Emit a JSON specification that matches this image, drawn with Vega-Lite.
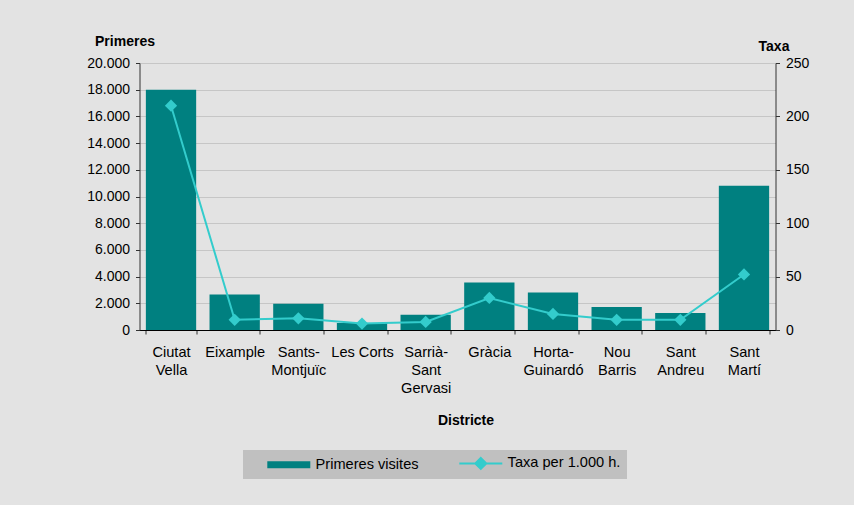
{
  "$schema": "https://vega.github.io/schema/vega-lite/v6.json",
  "width": 636,
  "height": 267,
  "autosize": "none",
  "padding": {"left": 139.5, "top": 63, "right": 78.5, "bottom": 175},
  "background": "#e3e3e3",
  "config": {
    "view": {"stroke": null},
    "font": "Liberation Sans",
    "axis": {
      "labelFont": "Liberation Sans",
      "labelFontSize": 14,
      "labelColor": "#000",
      "titleFont": "Liberation Sans",
      "titleFontSize": 14,
      "titleFontWeight": "bold",
      "titleColor": "#000",
      "domainColor": "#333",
      "tickColor": "#333",
      "tickSize": 4,
      "gridColor": "#c6c6c6",
      "gridWidth": 1
    }
  },
  "data": {
    "values": [
      {"districte": "Ciutat Vella", "primeres": 18000, "taxa": 210},
      {"districte": "Eixample", "primeres": 2650, "taxa": 9.5},
      {"districte": "Sants-Montjuïc", "primeres": 1970, "taxa": 11},
      {"districte": "Les Corts", "primeres": 520, "taxa": 6},
      {"districte": "Sarrià-Sant Gervasi", "primeres": 1150, "taxa": 7.5},
      {"districte": "Gràcia", "primeres": 3550, "taxa": 30},
      {"districte": "Horta-Guinardó", "primeres": 2800, "taxa": 15},
      {"districte": "Nou Barris", "primeres": 1720, "taxa": 9.5},
      {"districte": "Sant Andreu", "primeres": 1280, "taxa": 9.5},
      {"districte": "Sant Martí", "primeres": 10800, "taxa": 52}
    ]
  },
  "encoding": {
    "x": {
      "field": "districte",
      "type": "nominal",
      "sort": null,
      "scale": {"paddingInner": 0.21, "paddingOuter": 0.1},
      "axis": {
        "title": "Districte",
        "titleX": 326,
        "titleY": 94,
        "titleBaseline": "alphabetic",
        "labelAngle": 0,
        "labelFontSize": 14.6,
        "labelPadding": 10,
        "labelLineHeight": 18,
        "labelBaseline": "top",
        "tickBand": "extent",
        "domainColor": "#000",
        "labelExpr": "!isString(datum.value) ? '' : datum.value == 'Les Corts' ? 'Les Corts' : split(replace(replace(datum.value, '-', '-|'), ' ', '|'), '|')"
      }
    }
  },
  "layer": [
    {
      "mark": {"type": "bar"},
      "encoding": {
        "y": {
          "field": "primeres",
          "type": "quantitative",
          "scale": {"domain": [0, 20000], "nice": false},
          "axis": {
            "title": "Primeres",
            "titleAngle": 0,
            "titleX": -15,
            "titleY": -18,
            "titleAlign": "center",
            "titleBaseline": "alphabetic",
            "values": [0, 2000, 4000, 6000, 8000, 10000, 12000, 14000, 16000, 18000, 20000],
            "labelExpr": "replace(format(datum.value, ','), ',', '.')",
            "labelPadding": 6,
            "grid": true
          }
        },
        "color": {
          "datum": "Primeres visites",
          "type": "nominal",
          "scale": {"domain": ["Primeres visites", "Taxa per 1.000 h."], "range": ["#008080", "#33cccc"]},
          "legend": {
            "orient": "none",
            "legendX": 103.5,
            "legendY": 387,
            "direction": "horizontal",
            "title": null,
            "fillColor": "#c0c0c0",
            "padding": 6,
            "symbolSize": 100,
            "labelOffset": 52,
            "columnPadding": 22,
            "labelFontSize": 14.6,
            "labelFont": "Liberation Sans",
            "labelColor": "#000",
            "encode": {
              "symbols": {
                "update": {
                  "shape": {"signal": "datum.value === 'Primeres visites' ? 'M2.2,-0.7H10.8V0.7H2.2Z' : 'M2.2,0H10.8M6.5,-1.1L7.6,0L6.5,1.1L5.4,0Z'"},
                  "fill": {"scale": "color", "field": "value"},
                  "stroke": {"scale": "color", "field": "value"},
                  "strokeWidth": {"signal": "datum.value === 'Primeres visites' ? 0 : 2"},
                  "opacity": {"value": 1}
                }
              }
            }
          }
        }
      }
    },
    {
      "mark": {"type": "line", "strokeWidth": 2, "point": {"shape": "diamond", "size": 150, "filled": true}},
      "encoding": {
        "y": {
          "field": "taxa",
          "type": "quantitative",
          "scale": {"domain": [0, 250], "nice": false},
          "axis": {
            "orient": "right",
            "title": "Taxa",
            "titleAngle": 0,
            "titleX": -2,
            "titleY": -13,
            "titleAlign": "center",
            "titleBaseline": "alphabetic",
            "values": [0, 50, 100, 150, 200, 250],
            "labelPadding": 6,
            "grid": false
          }
        },
        "color": {"datum": "Taxa per 1.000 h.", "type": "nominal"}
      }
    }
  ],
  "resolve": {"scale": {"y": "independent"}}
}
